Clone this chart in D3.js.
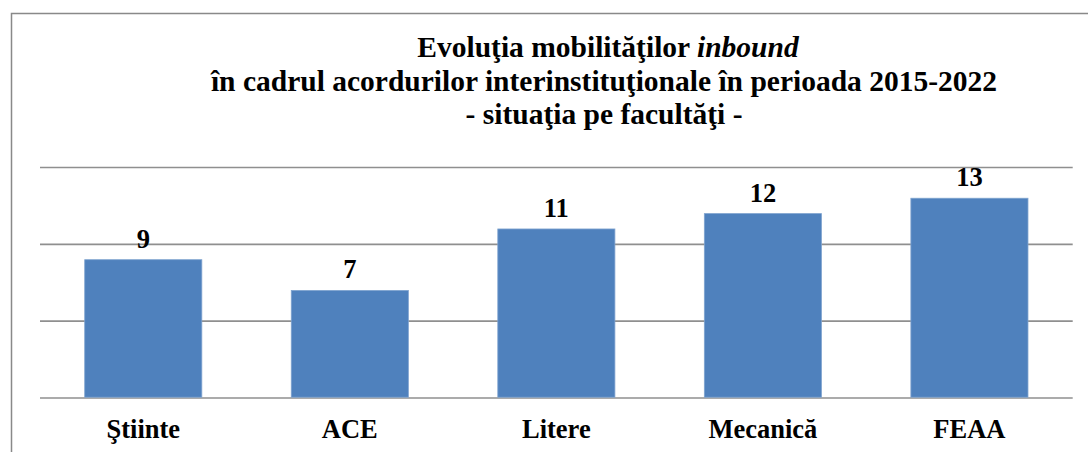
<!DOCTYPE html>
<html>
<head>
<meta charset="utf-8">
<script src="https://cdn.jsdelivr.net/npm/d3@7"></script>
<style>
  html, body { margin: 0; padding: 0; background: #fff; }
  svg { display: block; }
</style>
</head>
<body>
<svg id="chart" width="1088" height="452"></svg>
<script>
const categories = ["Ştiinte", "ACE", "Litere", "Mecanică", "FEAA"];
const values = [9, 7, 11, 12, 13];
const gridTicks = [0, 5, 10, 15];
const titleLines = [
  [{t: "Evoluţia mobilităţilor ", i: false}, {t: "inbound", i: true}],
  [{t: "în cadrul acordurilor interinstituţionale în perioada 2015-2022", i: false}],
  [{t: "- situaţia pe facultăţi -", i: false}]
];

const FONT = "'Liberation Serif', 'Times New Roman', serif";
const svg = d3.select("#chart");

// frame
svg.append("rect")
  .attr("x", 11.5).attr("y", 13.5)
  .attr("width", 1200).attr("height", 600)
  .attr("fill", "none").attr("stroke", "#898989").attr("stroke-width", 1.5);

const x = d3.scaleBand().domain(categories).range([40, 1072.7])
  .paddingInner(0.433).paddingOuter(0.2165);
const y = d3.scaleLinear().domain([0, 15]).range([398, 167.5]);

// gridlines
svg.append("g").selectAll("line").data(gridTicks).join("line")
  .attr("x1", 40).attr("x2", 1072.7)
  .attr("y1", d => y(d)).attr("y2", d => y(d))
  .attr("stroke", "#8f8f8f").attr("stroke-width", 1.6);

// bars
svg.append("g").selectAll("rect").data(values).join("rect")
  .attr("x", (d, i) => x(categories[i]))
  .attr("y", d => y(d))
  .attr("width", x.bandwidth())
  .attr("height", d => y(0) - y(d) - 0.8)
  .attr("fill", "#4F81BD")
  .attr("stroke", "#7FA3CF").attr("stroke-width", 0.8);

const textG = svg.append("g")
  .attr("font-family", FONT).attr("font-weight", "bold").attr("fill", "#000");

// value labels
textG.append("g").selectAll("text").data(values).join("text")
  .attr("x", (d, i) => x(categories[i]) + x.bandwidth() / 2)
  .attr("y", d => y(d) - 12)
  .attr("text-anchor", "middle")
  .attr("font-size", 26.5)
  .text(d => d);

// category labels
textG.append("g").selectAll("text").data(categories).join("text")
  .attr("x", d => x(d) + x.bandwidth() / 2)
  .attr("y", 438)
  .attr("text-anchor", "middle")
  .attr("font-size", 26.5)
  .text(d => d);

// title
const title = textG.append("text").attr("text-anchor", "middle").attr("font-size", 29.5)
  .style("white-space", "pre");
const baselines = [57, 90.5, 123.5];
const centers = [608, 604, 604];
titleLines.forEach((line, li) => {
  line.forEach((seg, si) => {
    const ts = title.append("tspan").text(seg.t);
    if (si === 0) ts.attr("x", centers[li]).attr("y", baselines[li]);
    if (seg.i) ts.attr("font-style", "italic");
  });
});
</script>
</body>
</html>
